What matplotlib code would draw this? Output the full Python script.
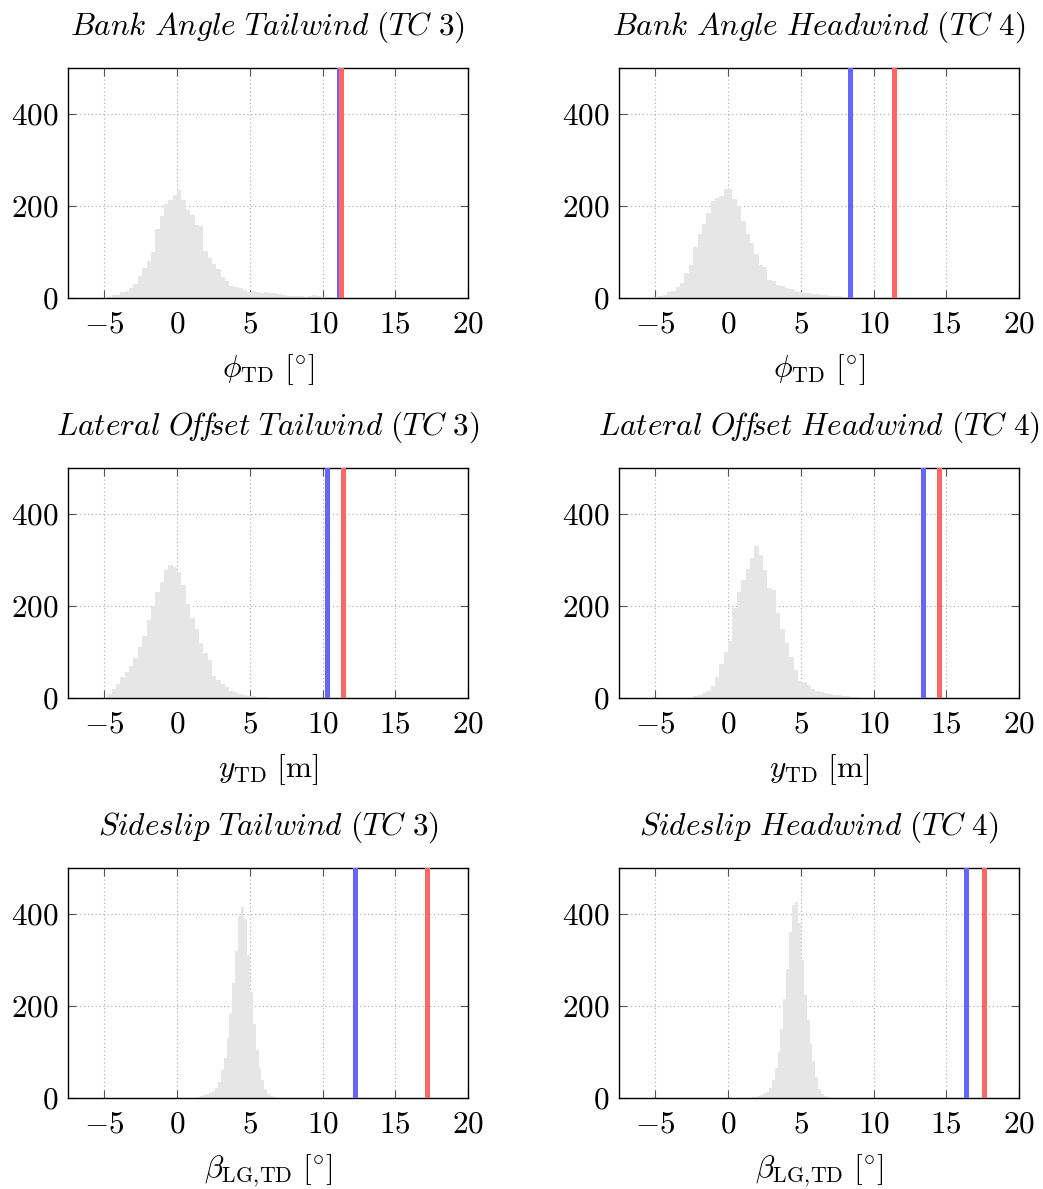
import numpy as np
import matplotlib
matplotlib.use("Agg")
import matplotlib.pyplot as plt

plt.rcParams["mathtext.fontset"] = "cm"
plt.rcParams["font.family"] = "serif"
plt.rcParams["font.serif"] = ["cmr10", "DejaVu Serif"]
plt.rcParams["axes.formatter.use_mathtext"] = True
plt.rcParams["axes.unicode_minus"] = True

# --- data ------------------------------------------------------------------
titles = [
    r"$\mathit{Bank\ Angle\ Tailwind\ (TC\ 3)}$",
    r"$\mathit{Bank\ Angle\ Headwind\ (TC\ 4)}$",
    r"$\mathit{Lateral\ O\!f\!f\!set\ Tailwind\ (TC\ 3)}$",
    r"$\mathit{Lateral\ O\!f\!f\!set\ Headwind\ (TC\ 4)}$",
    r"$\mathit{Sideslip\ Tailwind\ (TC\ 3)}$",
    r"$\mathit{Sideslip\ Headwind\ (TC\ 4)}$",
]
xlabels = [
    r"$\phi_{\mathrm{TD}}\ [^{\circ}]$",
    r"$\phi_{\mathrm{TD}}\ [^{\circ}]$",
    r"$y_{\mathrm{TD}}\ [\mathrm{m}]$",
    r"$y_{\mathrm{TD}}\ [\mathrm{m}]$",
    r"$\beta_{\mathrm{LG,\!TD}}\ [^{\circ}]$",
    r"$\beta_{\mathrm{LG,\!TD}}\ [^{\circ}]$",
]

bank_tail_start, bank_tail_width = -4.8, 0.3
bank_tail_counts = [3, 6, 7, 13, 15, 22, 30, 48, 66, 80, 100, 151, 178, 205, 213,
                    224, 235, 213, 191, 180, 158, 156, 103, 86, 73, 64, 46, 37, 26,
                    25, 21, 17, 14, 15, 13, 10, 12, 11, 10, 8, 6, 5, 4, 5, 4, 3, 4,
                    6, 4, 3, 2, 1]

bank_head_start, bank_head_width = -5.1, 0.3
bank_head_counts = [3, 5, 7, 12, 15, 25, 32, 55, 72, 110, 140, 160, 184, 210, 218,
                    222, 238, 236, 215, 200, 168, 140, 120, 95, 72, 68, 40, 36, 28,
                    26, 22, 19, 15, 12, 11, 10, 9, 8, 7, 6, 5, 5, 4, 3, 2]

lat_tail_start, lat_tail_width = -4.8, 0.3
lat_tail_counts = [8, 20, 30, 45, 56, 70, 88, 110, 135, 170, 200, 230, 252, 278,
                   289, 285, 275, 246, 205, 175, 150, 120, 97, 83, 48, 39, 30, 24,
                   16, 12, 9, 7, 5, 4, 3, 3, 2, 1]

lat_head_start, lat_head_width = -2.4, 0.3
lat_head_counts = [4, 7, 11, 16, 26, 45, 75, 100, 125, 195, 230, 257, 280, 305, 330,
                   311, 278, 240, 235, 185, 150, 120, 90, 60, 38, 34, 28, 20, 16,
                   13, 10, 8, 7, 6, 5, 4, 3, 2, 1]

slip_tail_start, slip_tail_width = 1.4, 0.2
slip_tail_counts = [2, 4, 6, 8, 11, 16, 22, 35, 60, 88, 130, 185, 250, 320, 395,
                    416, 390, 310, 230, 160, 105, 65, 40, 20, 9, 4, 2]

slip_head_start, slip_head_width = 1.6, 0.2
slip_head_counts = [2, 3, 5, 7, 10, 14, 22, 40, 65, 100, 150, 215, 280, 360, 420,
                    427, 380, 300, 225, 170, 120, 80, 45, 20, 8, 4, 2]

hist_starts = [bank_tail_start, bank_head_start, lat_tail_start,
               lat_head_start, slip_tail_start, slip_head_start]
hist_widths = [bank_tail_width, bank_head_width, lat_tail_width,
               lat_head_width, slip_tail_width, slip_head_width]
hist_counts = [bank_tail_counts, bank_head_counts, lat_tail_counts,
               lat_head_counts, slip_tail_counts, slip_head_counts]

blue_lines = [11.15, 8.35, 10.3, 13.4, 12.2, 16.35]
red_lines = [11.3, 11.4, 11.4, 14.5, 17.15, 17.6]

# --- layout -----------------------------------------------------------------
W, H = 1043, 1189
fig = plt.figure(figsize=(W / 100, H / 100), dpi=100)

col_left = [68, 619]
row_top = [68, 468, 868]
ax_w, ax_h = 400, 230

for i in range(6):
    r, c = divmod(i, 2)
    ax = fig.add_axes([col_left[c] / W, 1 - (row_top[r] + ax_h) / H, ax_w / W, ax_h / H])

    counts = np.array(hist_counts[i], dtype=float)
    edges = hist_starts[i] + hist_widths[i] * np.arange(len(counts) + 1)
    ax.hist(edges[:-1], bins=edges, weights=counts, color="#e6e6e6",
            linewidth=0, zorder=1)

    ax.axvline(blue_lines[i], color="#6666ff", linewidth=3.6, zorder=3)
    ax.axvline(red_lines[i], color="#ff6666", linewidth=3.6, zorder=4)

    ax.set_xlim(-7.5, 20)
    ax.set_ylim(0, 500)
    ax.set_xticks([-5, 0, 5, 10, 15, 20])
    ax.set_yticks([0, 200, 400])
    ax.grid(True, color="#a8a8a8", linestyle=(0, (1, 2.5)), linewidth=0.8, zorder=0)
    ax.set_axisbelow(True)
    ax.tick_params(direction="in", length=6, width=0.8, color="#555555",
                   top=True, right=True, labelsize=22.5, pad=7)
    ax.tick_params(axis="x", pad=9)
    for s in ax.spines.values():
        s.set_linewidth(1.0)

    ax.set_title(titles[i], fontsize=22.5, pad=24)
    ax.set_xlabel(xlabels[i], fontsize=22.5, labelpad=10)

fig.savefig("out.png", dpi=100)
